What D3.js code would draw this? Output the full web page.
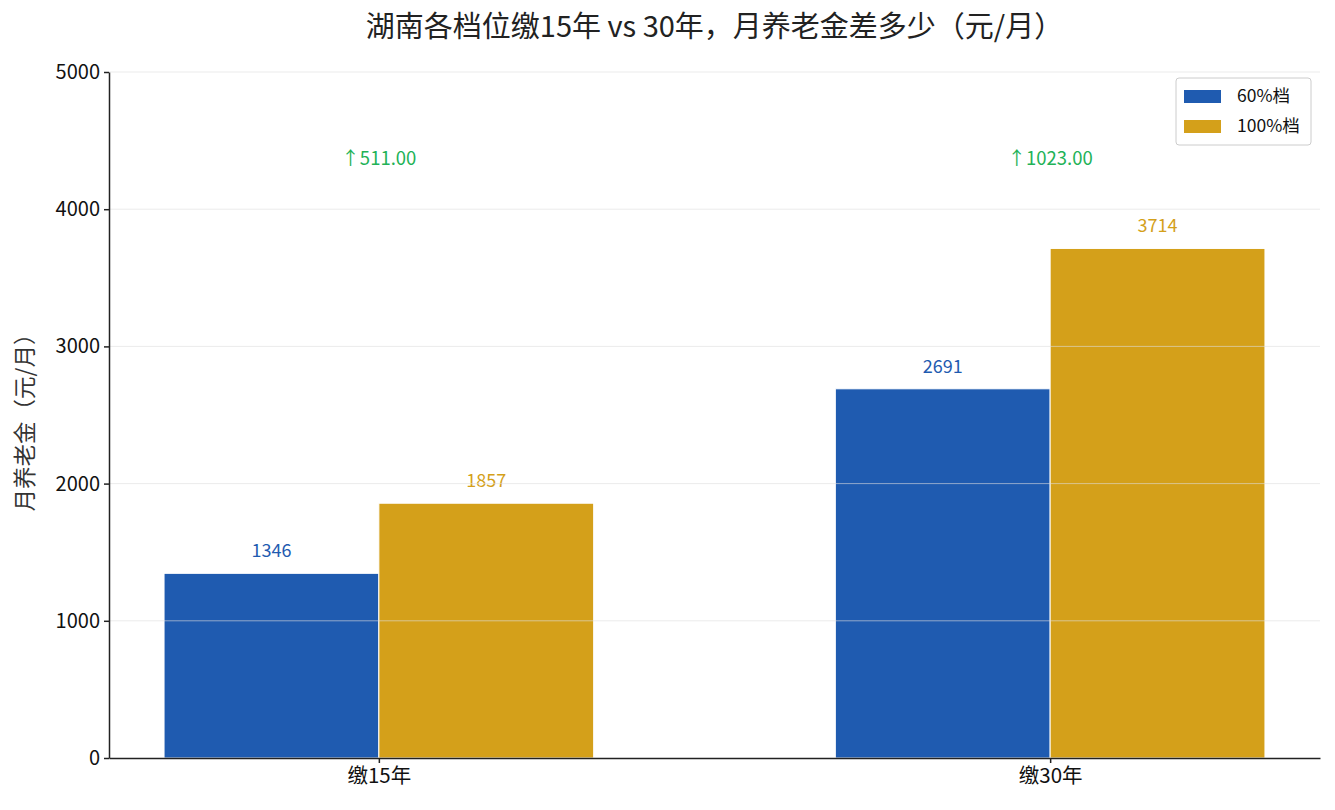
<!DOCTYPE html>
<html><head><meta charset="utf-8">
<script src="https://cdn.jsdelivr.net/npm/d3@7"></script>
<style>body{margin:0;background:#fff;font-family:"Noto Sans CJK SC","Noto Sans",sans-serif;}</style>
</head><body>
<svg id="c" width="1335" height="810"></svg>
<script>
const categories = ["缴15年", "缴30年"];
const seriesNames = ["60%档", "100%档"];
const series60 = [1346, 2691];
const series100 = [1857, 3714];
const diffLabels = ["↑511.00", "↑1023.00"];
const yTicks = [0, 1000, 2000, 3000, 4000, 5000];
const colors = ["#1f5bb0", "#d4a01a"];

const svg = d3.select("#c");
const m = {l:109, r:1320, t:72, b:758};
const font = '"Noto Sans CJK SC","Noto Sans",sans-serif';

const bw = 0.32;
const x = d3.scaleLinear().domain([-0.402, 1.402]).range([m.l, m.r]);
const y = d3.scaleLinear().domain([0, 5000]).range([m.b, m.t]);

const data = [series60, series100];
const gBars = svg.append("g");
data.forEach((s, si) => {
  gBars.selectAll(null).data(s).enter().append("rect")
    .attr("x", (d,i) => x(i + (si===0 ? -bw : 0)))
    .attr("width", x(bw) - x(0))
    .attr("y", d => y(d))
    .attr("height", d => y(0) - y(d))
    .attr("fill", colors[si])
    .attr("stroke", "#fff").attr("stroke-width", 1);
  gBars.selectAll(null).data(s).enter().append("text")
    .attr("x", (d,i) => x(i + (si===0 ? -bw/2 : bw/2)))
    .attr("y", d => y(d) - 16)
    .attr("text-anchor", "middle")
    .attr("font-family", font).attr("font-size", 18)
    .attr("fill", colors[si])
    .text(d => d);
});
svg.append("g").selectAll("line").data(yTicks.slice(1)).enter().append("line")
  .attr("x1", m.l).attr("x2", m.r)
  .attr("y1", d => y(d)).attr("y2", d => y(d))
  .attr("stroke", "#dddddd").attr("stroke-opacity", 0.6).attr("stroke-width", 1);

svg.append("g").selectAll("text").data(diffLabels).enter().append("text")
  .attr("x", (d,i) => x(i))
  .attr("y", y(4370))
  .attr("dy", "0.35em")
  .attr("text-anchor", "middle")
  .attr("font-family", font).attr("font-size", 18.5)
  .attr("fill", "#22b257")
  .text(d => d);

const yAxis = svg.append("g").attr("transform", `translate(${m.l},0)`)
  .call(d3.axisLeft(y).tickValues(yTicks).tickFormat(d3.format("d")).tickSize(5).tickPadding(4).tickSizeOuter(0));
yAxis.select(".domain").attr("stroke", "#222").attr("stroke-width", 1.5);
yAxis.selectAll(".tick line").attr("stroke", "#222").attr("stroke-width", 1.5);
yAxis.selectAll("text").attr("font-family", font).attr("font-size", 20).attr("fill", "#111");

const xAxis = svg.append("g").attr("transform", `translate(0,${m.b})`)
  .call(d3.axisBottom(x).tickValues([0,1]).tickFormat((d) => categories[d]).tickSize(5).tickPadding(5).tickSizeOuter(0));
xAxis.select(".domain").attr("stroke", "#222").attr("stroke-width", 1.5);
xAxis.selectAll(".tick line").attr("stroke", "#222").attr("stroke-width", 1.5);
xAxis.selectAll("text").attr("font-family", font).attr("font-size", 20.5).attr("fill", "#111");

svg.append("text").attr("x", (m.l + m.r)/2).attr("y", 37)
  .attr("text-anchor", "middle").attr("font-family", font).attr("font-size", 29)
  .attr("fill", "#222")
  .text("湖南各档位缴15年 vs 30年，月养老金差多少（元/月）");

svg.append("text").attr("transform", `translate(33,${(m.t+m.b)/2 + 2}) rotate(-90)`)
  .attr("text-anchor", "middle").attr("font-family", font).attr("font-size", 22.5)
  .attr("fill", "#333")
  .text("月养老金（元/月）");

const lg = svg.append("g");
lg.append("rect").attr("x", 1176).attr("y", 78).attr("width", 135).attr("height", 67)
  .attr("rx", 3).attr("fill", "#fff").attr("stroke", "#cccccc").attr("stroke-width", 1);
seriesNames.forEach((n, i) => {
  lg.append("rect").attr("x", 1184).attr("y", 90 + i*30).attr("width", 37).attr("height", 13).attr("fill", colors[i]);
  lg.append("text").attr("x", 1237).attr("y", 96 + i*30).attr("dy", "0.35em")
    .attr("font-family", font).attr("font-size", 17.5).attr("fill", "#111").text(n);
});
</script>
</body></html>
